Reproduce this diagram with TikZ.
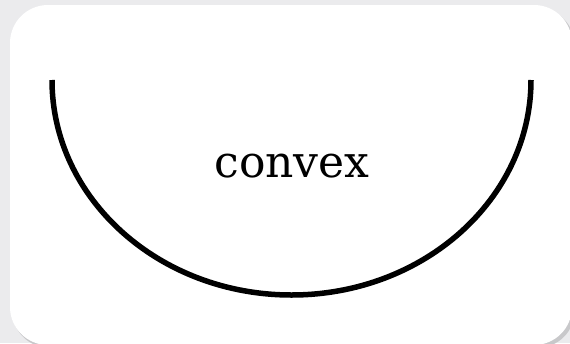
\documentclass[tikz,border=0pt]{standalone}
\usepackage{fontspec}
\setmainfont{DejaVu Serif}
\definecolor{pagegray}{RGB}{235,235,237}
\definecolor{shadowgray}{RGB}{200,200,202}

\begin{document}
\begin{tikzpicture}[x=1pt, y=-1pt]
  \useasboundingbox (0,0) rectangle (570,343);
  % draw page background
  \fill[pagegray] (0,0) rectangle (570,343);
  % draw rounded card with soft shadow
  \fill[shadowgray, rounded corners=38pt] (12,8) rectangle (575,348);
  \fill[white, rounded corners=38pt] (10,5) rectangle (572,345);
  % draw half ellipse
  \coordinate (curve_left) at (52,80);
  \draw[black, line width=5.5pt] (curve_left) arc[start angle=180, end angle=360, x radius=239.5, y radius=-215];
  \node[font=\fontsize{44}{50}\selectfont, inner sep=0pt] (label_convex) at (292,166) {convex};
\end{tikzpicture}
\end{document}
